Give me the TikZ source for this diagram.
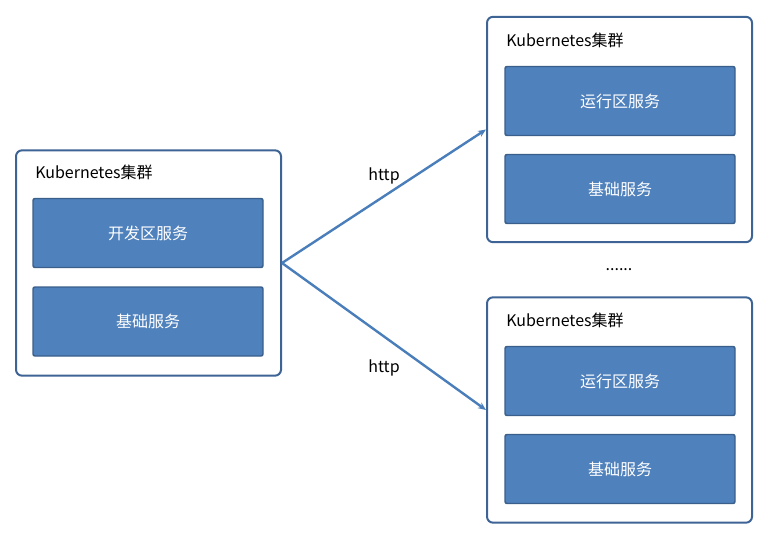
\documentclass[tikz,border=0pt]{standalone}
\usepackage{fontspec}
\setmainfont{Noto Sans CJK SC}
\usetikzlibrary{arrows.meta}

\definecolor{svcfill}{HTML}{4F81BD}
\definecolor{svcline}{HTML}{3A5F8B}
\definecolor{clusline}{HTML}{3E6395}
\definecolor{linkline}{HTML}{4A7EBB}

\tikzset{
  cluster/.style={draw=clusline, line width=1.5pt, rounded corners=4.5pt,
    minimum width=198.75pt, minimum height=169pt, inner sep=0pt},
  svc/.style={draw=svcline, line width=1.1pt, fill=svcfill, rounded corners=1.5pt,
    minimum width=172.5pt, minimum height=51.75pt, text=white, font=\fontsize{12pt}{14pt}\selectfont},
  title/.style={anchor=west, font=\fontsize{12pt}{14pt}\selectfont, inner sep=0pt},
  link/.style={draw=linkline, line width=1.8pt, -{Stealth[length=6pt,width=5pt]}},
  lbl/.style={font=\fontsize{12pt}{14pt}\selectfont}
}

\begin{document}
\begin{tikzpicture}[x=0.75pt, y=-0.75pt]

\useasboundingbox (0,0) rectangle (772,539);

% left cluster
\node[cluster] (dev) at (148.5,263) {};
\node[title] (devtitle) at (35,172) {Kubernetes集群};
\node[svc] (devsvc) at (148,233) {开发区服务};
\node[svc] (devbase) at (148,321.5) {基础服务};

% right clusters
\node[cluster] (runa) at (619.5,129.5) {};
\node[title] (runatitle) at (506,40) {Kubernetes集群};
\node[svc] (runasvc) at (620,101) {运行区服务};
\node[svc] (runabase) at (620,189) {基础服务};

\node[cluster] (runb) at (619.5,410) {};
\node[title] (runbtitle) at (506,320) {Kubernetes集群};
\node[svc] (runbsvc) at (620,381) {运行区服务};
\node[svc] (runbbase) at (620,469) {基础服务};

\node[lbl] (dots) at (619,269.5) {......};

% links
\draw[link] (dev.east) -- (runa.west);
\draw[link] (dev.east) -- (runb.west);

\node[lbl] (httpa) at (384,176) {http};
\node[lbl] (httpb) at (384,368) {http};

\end{tikzpicture}
\end{document}
